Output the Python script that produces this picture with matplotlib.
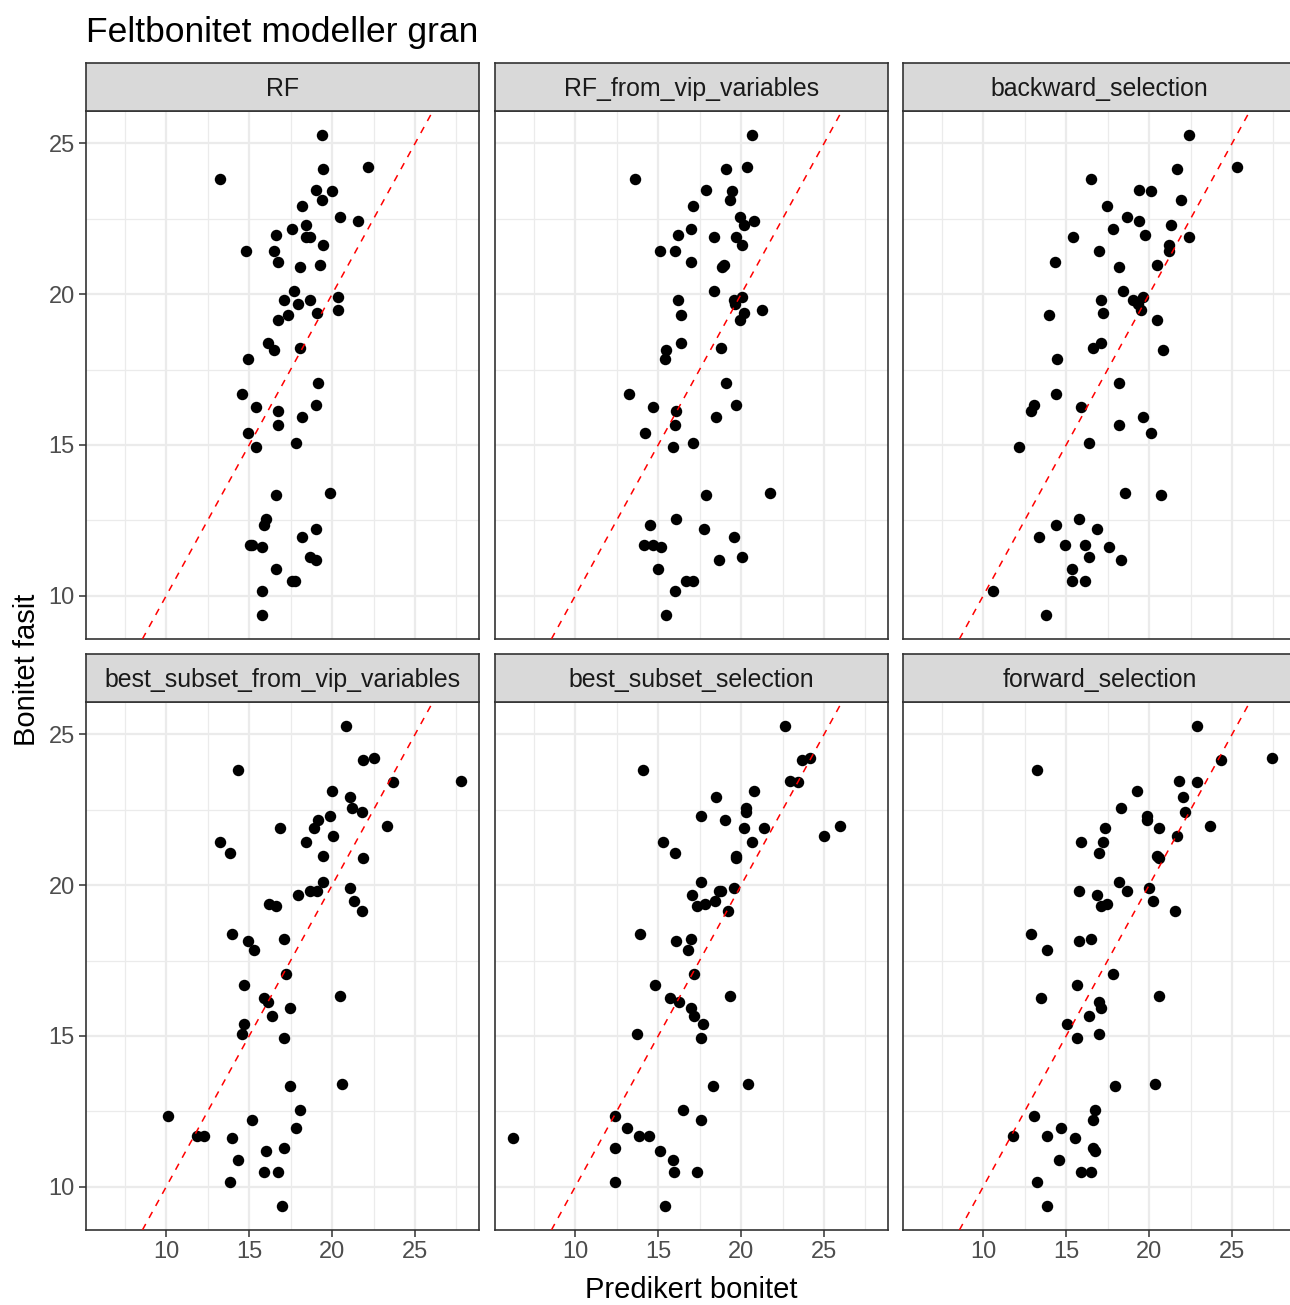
import matplotlib

matplotlib.use("Agg")
import matplotlib.pyplot as plt
import numpy as np

plt.rcParams["font.family"] = ["Liberation Sans", "DejaVu Sans"]

# Observed values (same observations in every facet)
bonitet_fasit = [
    25.28, 24.21, 24.14, 23.81, 23.47, 23.42, 23.14, 22.94, 22.56, 22.42,
    22.28, 22.15, 21.95, 21.89, 21.89, 21.62, 21.43, 21.43, 21.07, 20.96,
    20.90, 20.09, 19.90, 19.82, 19.82, 19.69, 19.49, 19.37, 19.30, 19.15,
    18.38, 18.23, 18.16, 17.84, 17.07, 16.68, 16.34, 16.27, 16.13, 15.93,
    15.66, 15.41, 15.07, 14.93, 13.42, 13.34, 12.56, 12.35, 12.21, 11.95,
    11.68, 11.68, 11.62, 11.28, 11.20, 10.87, 10.49, 10.49, 10.17, 9.36,
]

# Predicted values per model
pred_rf = [
    19.38, 22.16, 19.48, 13.24, 19.00, 19.98, 19.38, 18.18, 20.46, 21.54,
    18.42, 17.56, 16.60, 18.42, 18.66, 19.48, 14.82, 16.50, 16.72, 19.26,
    18.06, 17.70, 20.36, 17.10, 18.66, 17.92, 20.36, 19.12, 17.34, 16.72,
    16.12, 18.06, 16.50, 14.92, 19.16, 14.56, 19.00, 15.42, 16.72, 18.18,
    16.72, 14.92, 17.80, 15.42, 19.86, 16.60, 16.02, 15.88, 19.00, 18.18,
    15.06, 15.20, 15.80, 18.66, 19.02, 16.60, 17.58, 17.74, 15.76, 15.76,
]
pred_rf_vip = [
    20.66, 20.34, 19.10, 13.60, 17.90, 19.48, 19.36, 17.08, 19.96, 20.80,
    20.20, 16.96, 16.20, 18.38, 19.72, 20.08, 15.12, 16.00, 16.96, 18.98,
    18.86, 18.38, 20.08, 16.20, 19.60, 19.66, 21.28, 20.20, 16.36, 19.96,
    16.36, 18.76, 15.50, 15.40, 19.12, 13.22, 19.72, 14.66, 16.10, 18.50,
    16.00, 14.20, 17.08, 15.88, 21.74, 17.90, 16.10, 14.52, 17.78, 19.58,
    14.16, 14.70, 15.16, 20.06, 18.64, 15.00, 16.70, 17.10, 16.00, 15.50,
]
pred_backward = [
    22.38, 25.28, 21.66, 16.52, 19.38, 20.10, 21.92, 17.46, 18.66, 19.38,
    21.30, 17.82, 19.74, 15.42, 22.38, 21.20, 21.20, 17.00, 14.34, 20.46,
    18.18, 18.42, 19.62, 17.12, 19.02, 19.36, 19.50, 17.22, 13.96, 20.48,
    17.12, 16.60, 20.84, 14.46, 18.20, 14.36, 13.04, 15.92, 12.90, 19.62,
    18.20, 20.10, 16.40, 12.18, 18.54, 20.70, 15.78, 14.36, 16.86, 13.36,
    14.92, 16.14, 17.60, 16.40, 18.30, 15.34, 15.34, 16.14, 10.60, 13.76,
]
pred_best_vip = [
    20.82, 22.50, 21.86, 14.34, 27.78, 23.70, 19.98, 21.06, 21.18, 21.78,
    19.86, 19.14, 23.34, 16.86, 18.90, 20.08, 13.24, 18.40, 13.84, 19.48,
    21.88, 19.48, 21.06, 18.64, 19.12, 17.92, 21.30, 16.22, 16.62, 21.78,
    13.96, 17.10, 14.94, 15.30, 17.22, 14.70, 20.46, 15.92, 16.16, 17.46,
    16.40, 14.70, 14.56, 17.10, 20.58, 17.46, 18.08, 10.12, 15.16, 17.82,
    11.86, 12.30, 13.96, 17.10, 16.02, 14.34, 15.90, 16.72, 13.84, 16.98,
]
pred_best = [
    22.62, 24.16, 23.70, 14.06, 22.96, 23.46, 20.80, 18.50, 20.32, 20.32,
    17.56, 19.00, 25.96, 20.20, 21.40, 25.00, 20.66, 15.28, 16.00, 19.70,
    19.70, 17.56, 19.58, 18.64, 18.80, 17.06, 18.40, 17.80, 17.32, 19.24,
    13.92, 16.96, 16.10, 16.82, 17.18, 14.78, 19.36, 15.72, 16.24, 16.98,
    17.18, 17.68, 13.70, 17.56, 20.44, 18.28, 16.48, 12.38, 17.56, 13.12,
    13.82, 14.46, 6.24, 12.38, 15.14, 15.88, 15.98, 17.32, 12.38, 15.40,
]
pred_forward = [
    22.86, 27.42, 24.32, 13.26, 21.78, 22.86, 19.26, 22.06, 18.30, 22.16,
    19.86, 19.88, 23.70, 17.34, 20.58, 21.66, 15.92, 17.22, 17.00, 20.46,
    20.58, 18.20, 19.98, 15.80, 18.68, 16.86, 20.22, 17.46, 17.10, 21.56,
    12.88, 16.52, 15.78, 13.86, 17.82, 15.64, 20.58, 13.48, 17.00, 17.12,
    16.38, 15.04, 17.00, 15.64, 20.36, 17.94, 16.72, 13.04, 16.62, 14.70,
    11.78, 13.86, 15.54, 16.62, 16.72, 14.58, 15.90, 16.52, 13.26, 13.86,
]

model_names = [
    "RF", "RF_from_vip_variables", "backward_selection",
    "best_subset_from_vip_variables", "best_subset_selection", "forward_selection",
]
predictions = [pred_rf, pred_rf_vip, pred_backward, pred_best_vip, pred_best, pred_forward]

major_ticks = [10, 15, 20, 25]
tick_labels = ["10", "15", "20", "25"]

W, H = 1290, 1305
fig = plt.figure(figsize=(W / 100, H / 100), dpi=100)

# shared scales with ggplot-like 5% expansion
all_x = np.concatenate([np.asarray(p) for p in predictions])
y = np.asarray(bonitet_fasit)
xpad = 0.05 * (all_x.max() - all_x.min())
ypad = 0.05 * (y.max() - y.min())
xlim = (all_x.min() - xpad, all_x.max() + xpad)
ylim = (y.min() - ypad, y.max() + ypad)

col_left = [86, 495, 903]
panel_w = 393
panel_top = [111, 702]
panel_h = 528
strip_h = 48

border = "#333333"
grid_col = "#EBEBEB"
tick_col = "#4D4D4D"


def rect(left, top, w, h):
    return [left / W, 1 - (top + h) / H, w / W, h / H]


for i, (name, pred) in enumerate(zip(model_names, predictions)):
    r, c = divmod(i, 3)
    ax = fig.add_axes(rect(col_left[c], panel_top[r], panel_w, panel_h))
    ax.set_xticks(major_ticks)
    ax.set_yticks(major_ticks)
    ax.set_xticks(np.arange(7.5, 30, 5), minor=True)
    ax.set_yticks(np.arange(7.5, 30, 5), minor=True)
    ax.grid(True, which="major", color=grid_col, lw=1.6)
    ax.grid(True, which="minor", color=grid_col, lw=0.9)
    ax.set_axisbelow(True)
    for s in ax.spines.values():
        s.set_color(border)
        s.set_linewidth(1.2)
    ax.tick_params(which="minor", length=0)
    ax.tick_params(which="major", length=5, width=1.1, color=border,
                   labelsize=17, labelcolor=tick_col, pad=3)
    if r == 1:
        ax.set_xticklabels(tick_labels)
    else:
        ax.tick_params(axis="x", which="major", length=0, labelbottom=False)
    if c == 0:
        ax.set_yticklabels(tick_labels)
    else:
        ax.tick_params(axis="y", which="major", length=0, labelleft=False)

    ax.scatter(pred, bonitet_fasit, s=68, color="black", linewidths=0, zorder=2)
    ax.axline((10, 10), slope=1, color="red", lw=1.1, ls=(0, (4.5, 4.5)), zorder=3)
    # limits last, set_ticks would otherwise widen them
    ax.set_xlim(*xlim)
    ax.set_ylim(*ylim)

    sax = fig.add_axes(rect(col_left[c], panel_top[r] - strip_h, panel_w, strip_h))
    sax.set_facecolor("#D9D9D9")
    sax.set_xticks([])
    sax.set_yticks([])
    for s in sax.spines.values():
        s.set_color(border)
        s.set_linewidth(1.2)
    sax.text(0.5, 0.45, name, ha="center", va="center", fontsize=17.9,
             color="#1A1A1A", transform=sax.transAxes)

fig.text(86 / W, 1 - 42 / H, "Feltbonitet modeller gran", ha="left",
         va="baseline", fontsize=25.5, color="black")
fig.text(27 / W, 1 - 670 / H, "Bonitet fasit", rotation=90, ha="center",
         va="center", fontsize=21, color="black")
fig.text(691 / W, 1 - 1290 / H, "Predikert bonitet", ha="center",
         va="center", fontsize=21, color="black")

fig.savefig("out.png", dpi=100, facecolor="white")
